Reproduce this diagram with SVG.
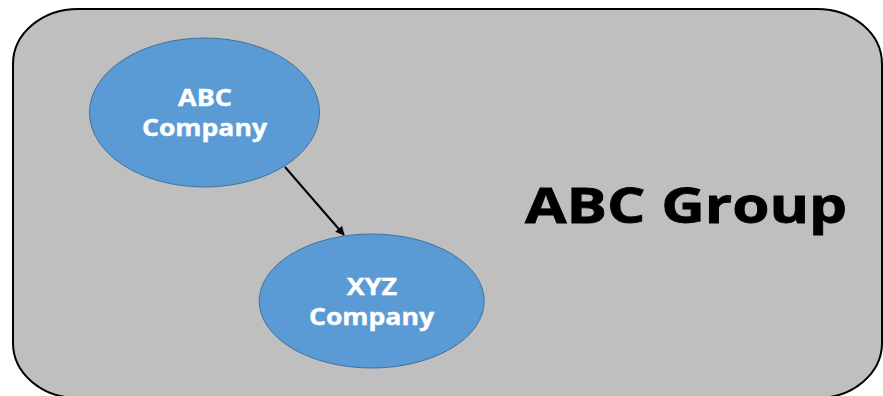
<svg xmlns="http://www.w3.org/2000/svg" width="883" height="396" viewBox="0 0 883 396">
  <defs>
    <style>
      .node ellipse { fill: #5B9BD5; stroke: #41719C; stroke-width: 1; }
      .lbl { font-family: "Open Sans", "DejaVu Sans", sans-serif; font-weight: bold; fill: #FFFFFF; stroke: #FFFFFF; stroke-width: 0.4; font-size: 23px; text-anchor: middle; }
      .title { font-family: "Open Sans", "DejaVu Sans", sans-serif; font-weight: bold; fill: #000000; stroke: #000000; stroke-width: 0.8; font-size: 49px; }
    </style>
    <marker id="arrow" viewBox="0 0 10 10" refX="9" refY="5" markerWidth="10" markerHeight="9" markerUnits="userSpaceOnUse" orient="auto">
      <path d="M0,0 L10,5 L0,10 z" fill="#000"/>
    </marker>
  </defs>
  <rect width="883" height="396" fill="#FFFFFF"/>
  <g id="group">
    <rect x="13" y="9" width="869" height="389" rx="65" ry="55" fill="#BFBFBF" stroke="#000" stroke-width="2"/>
    <text class="title" transform="translate(525,223) scale(1.23,1)" x="0" y="0" textLength="262" lengthAdjust="spacingAndGlyphs">ABC Group</text>
  </g>
  <g id="connectors">
    <line x1="285" y1="167" x2="344" y2="235" stroke="#000" stroke-width="2" marker-end="url(#arrow)"/>
  </g>
  <g id="abc" class="node">
    <ellipse cx="204.5" cy="112.5" rx="115" ry="74.5"/>
    <text class="lbl" transform="translate(205,106) scale(1.17,1)" x="0" y="0" textLength="46" lengthAdjust="spacingAndGlyphs">ABC</text>
    <text class="lbl" transform="translate(204.5,136) scale(1.17,1)" x="0" y="0" textLength="107" lengthAdjust="spacingAndGlyphs">Company</text>
  </g>
  <g id="xyz" class="node">
    <ellipse cx="371.7" cy="301" rx="112.5" ry="67"/>
    <text class="lbl" transform="translate(372,295) scale(1.17,1)" x="0" y="0" textLength="43" lengthAdjust="spacingAndGlyphs">XYZ</text>
    <text class="lbl" transform="translate(371.5,325) scale(1.17,1)" x="0" y="0" textLength="107" lengthAdjust="spacingAndGlyphs">Company</text>
  </g>
</svg>
